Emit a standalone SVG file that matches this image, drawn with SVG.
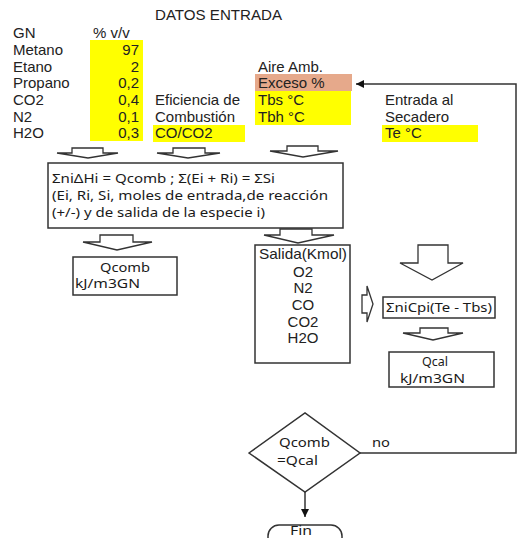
<svg xmlns="http://www.w3.org/2000/svg" width="518" height="538" viewBox="0 0 518 538">
<defs>
<style>
.a{font-family:"Liberation Sans",Arial,sans-serif;font-size:15px;fill:#222}
.c{font-family:"Noto Sans","Open Sans",sans-serif;font-size:13px;fill:#1a1a1a}
.box{fill:#fff;stroke:#333;stroke-width:1.5}
.blk{fill:#fff;stroke:#333;stroke-width:1.3;stroke-linejoin:miter}
.ln{fill:none;stroke:#333;stroke-width:1.5}
.y{fill:#ffff00}
</style>
<marker id="ah" viewBox="0 0 10 10" refX="10" refY="5" markerWidth="10" markerHeight="8" markerUnits="userSpaceOnUse" orient="auto">
<path d="M0,0 L10,5 L0,10 z" fill="#111"/>
</marker>
</defs>
<rect width="518" height="538" fill="#fff"/>

<g id="datos">
<text class="a" x="155" y="20" textLength="127" lengthAdjust="spacingAndGlyphs">DATOS ENTRADA</text>
<rect class="y" x="90" y="40" width="53" height="101"/>
<text class="a" x="13" y="38">GN</text>
<text class="a" x="93" y="38">% v/v</text>
<text class="a" x="13" y="55">Metano</text>
<text class="a" x="13" y="71.5">Etano</text>
<text class="a" x="13" y="88">Propano</text>
<text class="a" x="13" y="105">CO2</text>
<text class="a" x="13" y="121.5">N2</text>
<text class="a" x="13" y="138">H2O</text>
<g text-anchor="end">
<text class="a" x="139" y="55">97</text>
<text class="a" x="139" y="71.5">2</text>
<text class="a" x="139" y="88">0,2</text>
<text class="a" x="139" y="105">0,4</text>
<text class="a" x="139" y="121.5">0,1</text>
<text class="a" x="139" y="138">0,3</text>
</g>
</g>

<g id="eficiencia">
<text class="a" x="155" y="105">Eficiencia de</text>
<text class="a" x="155" y="121.5">Combustión</text>
<rect class="y" x="153" y="125" width="92" height="17"/>
<text class="a" x="155" y="138">CO/CO2</text>
</g>

<g id="aire">
<text class="a" x="258" y="72">Aire Amb.</text>
<rect x="255" y="74" width="97" height="17" fill="#e6a98b"/>
<text class="a" x="258" y="88">Exceso %</text>
<rect class="y" x="255" y="91" width="96" height="34"/>
<text class="a" x="258" y="105">Tbs °C</text>
<text class="a" x="258" y="121.5">Tbh °C</text>
</g>

<g id="entrada">
<text class="a" x="385" y="105">Entrada al</text>
<text class="a" x="385" y="121.5">Secadero</text>
<rect class="y" x="382" y="125" width="96" height="17"/>
<text class="a" x="385" y="138">Te °C</text>
</g>

<g id="balance">
<rect class="box" x="48" y="163" width="295" height="65" stroke-width="2"/>
<text class="c" x="52" y="183" textLength="223" lengthAdjust="spacingAndGlyphs">ΣniΔHi = Qcomb ; Σ(Ei + Ri) = ΣSi</text>
<text class="c" x="52" y="200" textLength="276" lengthAdjust="spacingAndGlyphs">(Ei, Ri, Si, moles de entrada,de reacción</text>
<text class="c" x="52" y="217" textLength="213" lengthAdjust="spacingAndGlyphs">(+/-) y de salida de la especie i)</text>
</g>

<g id="qcomb">
<rect class="box" x="73" y="257" width="104" height="38"/>
<text class="c" x="100" y="272" textLength="50" lengthAdjust="spacingAndGlyphs">Qcomb</text>
<text class="c" x="75" y="288" textLength="65" lengthAdjust="spacingAndGlyphs">kJ/m3GN</text>
</g>

<g id="salida">
<rect class="box" x="255" y="245" width="95" height="118"/>
<g text-anchor="middle">
<text class="a" x="303" y="259" textLength="88" lengthAdjust="spacingAndGlyphs">Salida(Kmol)</text>
<text class="a" x="303" y="277">O2</text>
<text class="a" x="303" y="293">N2</text>
<text class="a" x="303" y="310">CO</text>
<text class="a" x="303" y="327">CO2</text>
<text class="a" x="303" y="343">H2O</text>
</g>
</g>

<g id="cp">
<rect class="box" x="383" y="297" width="112" height="21"/>
<text class="c" x="386" y="312" textLength="106" lengthAdjust="spacingAndGlyphs">ΣniCpi(Te - Tbs)</text>
</g>

<g id="qcal">
<rect class="box" x="389" y="352" width="105" height="35"/>
<text class="c" x="422" y="366" textLength="26" lengthAdjust="spacingAndGlyphs">Qcal</text>
<text class="c" x="400" y="383" textLength="65" lengthAdjust="spacingAndGlyphs">kJ/m3GN</text>
</g>

<g id="decision">
<path class="box" d="M249,453 L305,413 L360,453 L305,492 Z"/>
<text class="c" x="279" y="447" textLength="51" lengthAdjust="spacingAndGlyphs">Qcomb</text>
<text class="c" x="277" y="465" textLength="41" lengthAdjust="spacingAndGlyphs">=Qcal</text>
</g>

<g id="fin">
<rect class="box" x="268" y="525" width="74" height="24" rx="11"/>
<text class="c" x="290" y="535" font-size="10.5" textLength="22" lengthAdjust="spacingAndGlyphs">Fin</text>
</g>

<g id="connectors">
<path class="blk" d="M72,148 H103 V153 H118 L88,158 L57,153 H72 Z"/>
<path class="blk" d="M173,148 H205 V153 H220 L188,158 L157,153 H173 Z"/>
<path class="blk" d="M287,146 H318 V151 H338 L303,157 L270,151 H287 Z"/>
<path class="blk" d="M100,235 H133 V242 H152 L117,250 L83,242 H100 Z"/>
<path class="blk" d="M280,229 H312 V235 H334 L298,243 L264,235 H280 Z"/>
<path class="blk" d="M418,245 H448 V263 H463 L432,280 L400,263 H418 Z"/>
<path class="blk" d="M362,295 H367 V286 L373,304 L367,322 V313 H362 Z"/>
<path class="blk" d="M420,328 H448 V333 H463 L433,340 L403,333 H420 Z"/>
<path class="ln" d="M360,453 H516 V84 H356" marker-end="url(#ah)" stroke="#555"/>
<text class="c" x="372" y="447" textLength="18" lengthAdjust="spacingAndGlyphs">no</text>
<path class="ln" d="M305,492 V517" marker-end="url(#ah)"/>
</g>
</svg>
